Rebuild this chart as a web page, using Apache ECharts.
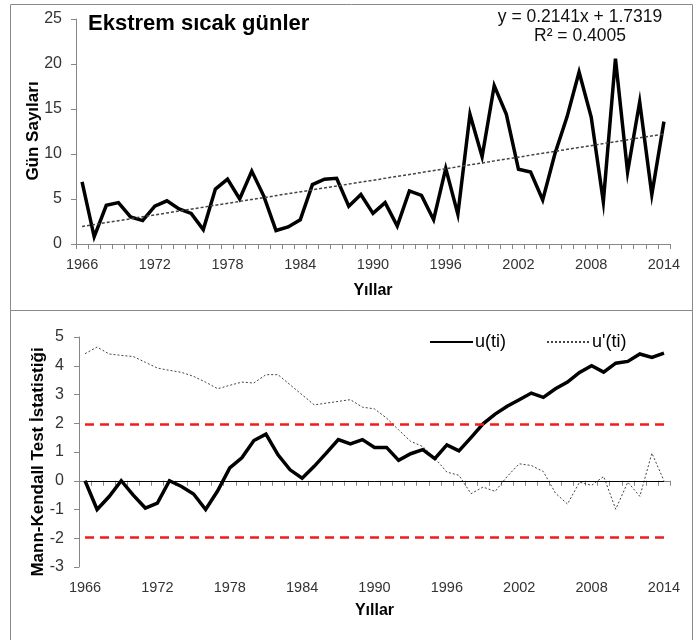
<!DOCTYPE html>
<html>
<head>
<meta charset="utf-8">
<script src="https://cdn.jsdelivr.net/npm/echarts@6/dist/echarts.min.js"></script>
<style>
html,body{margin:0;padding:0;background:#fff;}
#c{width:699px;height:640px;}
</style>
</head>
<body>
<div id="c"></div>
<script>
var years = ['1966','1967','1968','1969','1970','1971','1972','1973','1974','1975',
 '1976','1977','1978','1979','1980','1981','1982','1983','1984','1985',
 '1986','1987','1988','1989','1990','1991','1992','1993','1994','1995',
 '1996','1997','1998','1999','2000','2001','2002','2003','2004','2005',
 '2006','2007','2008','2009','2010','2011','2012','2013','2014'];

var hotDays = [6.9,0.8,4.3,4.6,3.0,2.6,4.2,4.8,3.9,3.4,
 1.6,6.1,7.2,5.0,8.1,5.3,1.5,1.9,2.7,6.6,
 7.2,7.3,4.2,5.5,3.4,4.6,2.0,5.9,5.4,2.7,
 8.4,3.3,14.4,9.7,17.6,14.4,8.3,8.0,4.9,10.0,
 14.1,19.1,14.1,4.7,20.6,8.0,15.8,5.5,13.6];

var trendEnds = [1.95, 12.22];

var uti = [0,-1.0,-0.55,0,-0.5,-0.95,-0.78,0,-0.2,-0.46,
 -1.0,-0.35,0.45,0.8,1.4,1.62,0.9,0.38,0.09,0.5,
 0.96,1.43,1.28,1.43,1.16,1.16,0.71,0.94,1.08,0.77,
 1.25,1.04,1.5,1.98,2.32,2.59,2.82,3.05,2.9,3.2,
 3.43,3.77,4.0,3.78,4.09,4.15,4.41,4.29,4.44];

var uPrime = [4.42,4.65,4.41,4.36,4.32,4.12,3.92,3.84,3.77,3.63,
 3.43,3.2,3.32,3.43,3.4,3.69,3.69,3.34,2.99,2.64,
 2.7,2.76,2.82,2.56,2.5,2.18,1.77,1.37,1.19,0.79,
 0.3,0.19,-0.45,-0.22,-0.37,0.15,0.59,0.53,0.32,-0.43,
 -0.81,-0.05,-0.16,0.15,-0.99,-0.05,-0.54,0.96,0];

var critical = 1.96;
var zeroLevel = 0;

var topTicks = {min:0, max:25, interval:5};
var botTicks = {min:-3, max:5, interval:1};

var FONT = 'Liberation Sans, Arial, sans-serif';

var chart = echarts.init(document.getElementById('c'), null, {renderer:'canvas'});

function xAxisCfg(gridIndex, nameGap){
  return {
    type:'category', gridIndex:gridIndex, data:years, boundaryGap:true,
    axisLine:{lineStyle:{color:'#868686', width:1}},
    axisTick:{show:true, interval:0, length:5, lineStyle:{color:'#868686'}},
    axisLabel:{interval:5, color:'#333', fontSize:14.5, fontFamily:FONT, margin:13},
    name:'Yıllar', nameLocation:'middle', nameGap:nameGap,
    nameTextStyle:{fontWeight:'bold', fontSize:16, fontFamily:FONT, color:'#000'}
  };
}
function yAxisCfg(gridIndex, t, margin){
  return {
    type:'value', gridIndex:gridIndex, min:t.min, max:t.max, interval:t.interval,
    axisLine:{show:true, lineStyle:{color:'#868686', width:1}},
    axisTick:{show:true, length:5, lineStyle:{color:'#868686'}},
    splitLine:{show:false},
    axisLabel:{color:'#333', fontSize:16, fontFamily:FONT, margin:margin}
  };
}

var option = {
  animation:false,
  backgroundColor:'#fff',
  grid:[
    {left:76, right:29, top:19, height:225},
    {left:79, right:29, top:337, height:230}
  ],
  xAxis:[xAxisCfg(0, 39), xAxisCfg(1, 36)],
  yAxis:[yAxisCfg(0, topTicks, 14), yAxisCfg(1, botTicks, 15)],
  legend:{
    data:['u(ti)', "u'(ti)"],
    left:424, top:328, itemWidth:43, itemHeight:14, itemGap:40,
    itemStyle:{opacity:0},
    textStyle:{fontSize:18, fontFamily:FONT, color:'#000', padding:[0,0,0,-3]},
    selectedMode:false
  },
  series:[
    {
      name:'hot', type:'line', xAxisIndex:0, yAxisIndex:0, data:hotDays,
      symbol:'none', color:'#000', lineStyle:{color:'#000', width:3.5, join:'miter'},
      z:3,
      markLine:{
        silent:true, symbol:'none', label:{show:false},
        lineStyle:{color:'#444', width:1.5, type:[3,2]},
        data:[[{coord:[years[0], trendEnds[0]]},{coord:[years[years.length-1], trendEnds[1]]}]]
      }
    },
    {
      name:'ref', type:'line', xAxisIndex:1, yAxisIndex:1, data:[],
      markLine:{
        silent:true, symbol:'none', label:{show:false}, animation:false,
        data:[
          [{coord:[years[0], zeroLevel], lineStyle:{color:'#000', width:1, type:'solid'}},{coord:[years[years.length-1], zeroLevel]}],
          [{coord:[years[0], critical], lineStyle:{color:'#ee1c1c', width:2.5, type:[9,6]}},{coord:[years[years.length-1], critical]}],
          [{coord:[years[0], -critical], lineStyle:{color:'#ee1c1c', width:2.5, type:[9,6]}},{coord:[years[years.length-1], -critical]}]
        ]
      }
    },
    {
      name:"u'(ti)", type:'line', xAxisIndex:1, yAxisIndex:1, data:uPrime,
      symbol:'none', color:'#444', lineStyle:{color:'#444', width:1, type:[2,2]}, z:3
    },
    {
      name:'u(ti)', type:'line', xAxisIndex:1, yAxisIndex:1, data:uti,
      symbol:'none', color:'#000', lineStyle:{color:'#000', width:3.5, join:'miter'}, z:4
    }
  ],
  graphic:[
    {type:'rect', shape:{x:10.5, y:4.5, width:682, height:306}, style:{fill:null, stroke:'#8a8a8a', lineWidth:1}, silent:true, z:-1},
    {type:'rect', shape:{x:10.5, y:310.5, width:682, height:340}, style:{fill:null, stroke:'#8a8a8a', lineWidth:1}, silent:true, z:-1},
    {type:'text', left:88, top:13, style:{text:'Ekstrem sıcak günler', font:'bold 22px ' + FONT, fill:'#000'}},
    {type:'text', x:580, y:17, style:{text:'y = 0.2141x + 1.7319', font:'17.5px ' + FONT, fill:'#111', textAlign:'center', textVerticalAlign:'middle'}},
    {type:'text', x:580, y:36, style:{text:'R² = 0.4005', font:'17.5px ' + FONT, fill:'#111', textAlign:'center', textVerticalAlign:'middle'}},
    {type:'text', x:33, y:131, rotation:Math.PI/2, style:{text:'Gün Sayıları', font:'bold 17px ' + FONT, fill:'#000', textAlign:'center', textVerticalAlign:'middle'}},
    {type:'text', x:38, y:462, rotation:Math.PI/2, style:{text:'Mann-Kendall Test İstatistiği', font:'bold 17px ' + FONT, fill:'#000', textAlign:'center', textVerticalAlign:'middle'}}
  ]
};
chart.setOption(option);
</script>
</body>
</html>
